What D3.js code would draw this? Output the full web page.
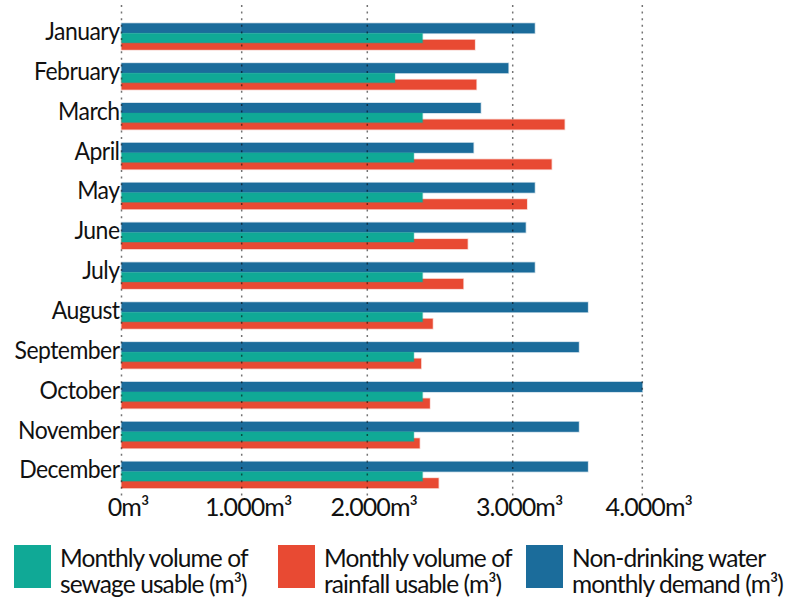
<!DOCTYPE html>
<html>
<head>
<meta charset="utf-8">
<script src="https://cdn.jsdelivr.net/npm/d3@7"></script>
<style>
  html, body { margin: 0; padding: 0; background: #fff; }
  svg { display: block; font-family: Lato, "Open Sans", sans-serif; }
</style>
</head>
<body>
<svg id="chart" width="792" height="600"></svg>
<script>
// Monthly water balance (m³)
const months = ["January", "February", "March", "April", "May", "June",
                "July", "August", "September", "October", "November", "December"];
const sewage = [2380, 2190, 2380, 2320, 2380, 2320, 2380, 2380, 2320, 2380, 2320, 2380];
const rainfall = [2740, 2750, 3400, 3300, 3110, 2690, 2660, 2450, 2370, 2430, 2360, 2490];
const demand = [3170, 2970, 2780, 2730, 3170, 3100, 3170, 3580, 3510, 4000, 3510, 3580];
const xTicks = [0, 1000, 2000, 3000, 4000];
const seriesNames = [
  ["Monthly volume of", "sewage usable (m³)"],
  ["Monthly volume of", "rainfall usable (m³)"],
  ["Non-drinking water", "monthly demand (m³)"]
];

const colors = { sewage: "#10a996", rainfall: "#e84a33", demand: "#1b6c9b" };

const svg = d3.select("#chart");

// value axis: the grid columns are not evenly spaced, so map each tick
// to its own column position
const x = d3.scaleLinear().domain(xTicks).range([121.5, 241.7, 367.3, 512.7, 642.3]);

const y = d3.scaleBand().domain(months).range([23.3, 23.3 + 12 * 39.85]).padding(0);

const rows = months.map((m, i) => ({ month: m, sewage: sewage[i], rainfall: rainfall[i], demand: demand[i] }));

const bars = svg.append("g");

function drawSeries(key, offset, h) {
  bars.selectAll("rect." + key)
    .data(rows)
    .join("rect")
    .attr("class", key)
    .attr("x", x(0))
    .attr("y", d => y(d.month) + offset)
    .attr("width", d => x(d[key]) - x(0))
    .attr("height", h)
    .attr("fill", colors[key])
    .attr("stroke", colors[key])
    .attr("stroke-opacity", 0.25)
    .attr("stroke-width", 1.5);
}
drawSeries("demand", 0, 10);
drawSeries("rainfall", 16.5, 10);
drawSeries("sewage", 10, 9.5);

// dotted grid columns, drawn over the bars
svg.append("g")
  .selectAll("line")
  .data(xTicks)
  .join("line")
  .attr("x1", d => x(d)).attr("x2", d => x(d))
  .attr("y1", 5).attr("y2", 496)
  .attr("stroke", "#000")
  .attr("stroke-opacity", 0.55)
  .attr("stroke-width", 1.5)
  .attr("stroke-dasharray", "2,4.6");

// month labels (slightly condensed)
svg.append("g")
  .attr("transform", "translate(119.5,0) scale(0.92,1)")
  .selectAll("text")
  .data(months)
  .join("text")
  .attr("x", 0)
  .attr("y", d => y(d) + 16.8)
  .attr("text-anchor", "end")
  .attr("font-size", 25)
  .attr("letter-spacing", -0.6)
  .attr("fill", "#111")
  .text(d => d);

// value axis labels with "." as thousands separator
const locale = d3.formatLocale({ decimal: ",", thousands: ".", grouping: [3], currency: ["", ""] });
const fmt = locale.format(",d");
const xAxis = d3.axisBottom(x)
  .tickValues(xTicks)
  .tickSize(0)
  .tickPadding(0)
  .tickFormat(d => fmt(d) + "m³");
const gx = svg.append("g")
  .attr("transform", "translate(0,498.5)")
  .call(xAxis);
gx.select(".domain").remove();
gx.selectAll("text")
  .attr("font-family", "Lato, 'Open Sans', sans-serif")
  .attr("font-size", 25)
  .attr("letter-spacing", -0.9)
  .attr("fill", "#111")
  .attr("dx", 6);

// legend
const legendKeys = ["sewage", "rainfall", "demand"];
const legendX = [14, 278, 526];
const legend = svg.append("g")
  .selectAll("g")
  .data(legendKeys)
  .join("g")
  .attr("transform", (d, i) => `translate(${legendX[i]},545)`);
legend.append("rect")
  .attr("width", 37).attr("height", 43)
  .attr("fill", d => colors[d]);
legend.each(function (d, i) {
  const t = d3.select(this).append("text")
    .attr("x", 46)
    .attr("font-size", 24.5)
    .attr("letter-spacing", -0.9)
    .attr("fill", "#111");
  seriesNames[i].forEach((line, j) => {
    t.append("tspan").attr("x", 46).attr("y", 21.7 + j * 26.5).text(line);
  });
});
</script>
</body>
</html>
